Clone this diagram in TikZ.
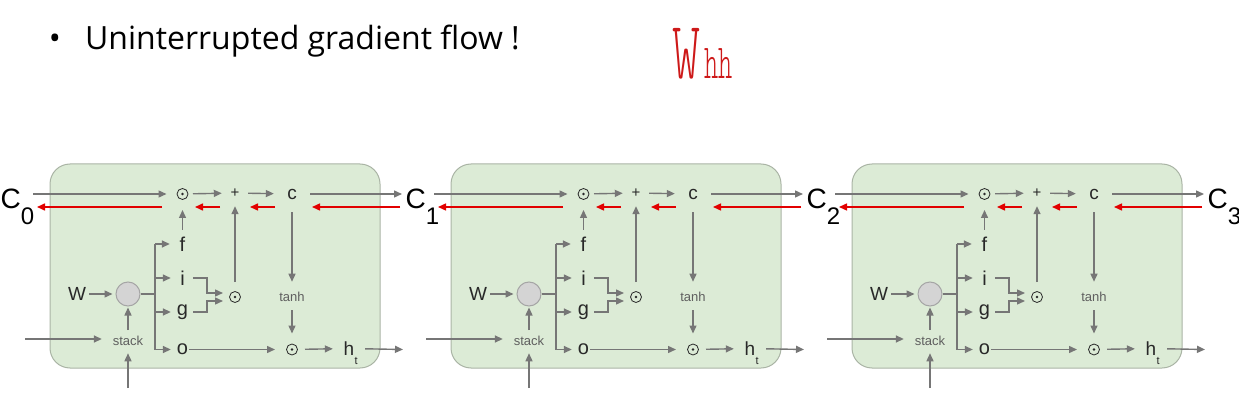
\documentclass[tikz,border=0pt]{standalone}
\usepackage{graphicx}
\usepackage{fontspec}
\setmainfont{Liberation Sans}
\newfontfamily\titlefont{Open Sans}
\newfontfamily\handfont{lmmonolt10-regular.otf}
\usetikzlibrary{arrows.meta}
\definecolor{lineg}{RGB}{118,118,118}
\definecolor{txtd}{RGB}{40,40,40}
\definecolor{txtg}{RGB}{95,95,95}
\definecolor{cellfill}{RGB}{220,235,214}
\definecolor{celldraw}{RGB}{170,180,165}
\definecolor{redarrow}{RGB}{226,0,0}
\definecolor{handred}{RGB}{205,25,25}
\definecolor{circfill}{RGB}{212,212,212}
\definecolor{circdraw}{RGB}{165,165,165}
\tikzset{
 cellbox/.style={draw=celldraw, fill=cellfill, rounded corners=20pt, line width=1pt, minimum width=330pt, minimum height=204pt, inner sep=0pt},
 arr/.style={draw=lineg, line width=1.4pt, -{Triangle[length=8pt,width=7pt]}},
 plainline/.style={draw=lineg, line width=1.4pt},
 redarr/.style={draw=redarrow, line width=1.5pt, -{Triangle[length=8pt,width=7pt]}},
 odotnode/.style={circle, draw=txtd, line width=0.8pt, minimum size=11pt, inner sep=0pt, outer sep=5pt,
   path picture={\fill[txtd] (path picture bounding box.center) circle (1.3pt);}},
 letter/.style={inner sep=0pt, text=txtd, font=\fontsize{20}{20}\selectfont},
 bigletter/.style={inner sep=0pt, text=txtd, font=\fontsize{19}{19}\selectfont},
 smalltxt/.style={inner sep=0pt, text=txtg, font=\fontsize{13}{13}\selectfont},
 clabel/.style={inner sep=0pt, text=black, font=\fontsize{28}{28}\selectfont, anchor=base west},
 wcirc/.style={circle, fill=circfill, draw=circdraw, line width=1pt, minimum size=24pt, inner sep=0pt},
 plusnode/.style={inner sep=0pt, minimum size=26pt, text=txtd, font=\fontsize{15}{15}\selectfont},
 cnode/.style={inner sep=0pt, minimum size=36pt, text=txtd, font=\fontsize{19}{19}\selectfont},
}
\newcommand{\csub}[1]{\raisebox{-17pt}{\fontsize{24}{24}\selectfont #1}}
\begin{document}
\begin{tikzpicture}[x=1pt,y=-1pt]
\useasboundingbox (0,0) rectangle (1239,406);
% title
\node[anchor=base, inner sep=0pt, font=\titlefont\fontsize{32}{32}\selectfont] (bullet) at (55,50) {•};
\node[anchor=base west, inner sep=0pt, font=\titlefont\fontsize{32}{32}\selectfont] (title) at (85,50) {Uninterrupted gradient flow !};
% handwritten annotation
\node[anchor=base west, inner sep=0pt, text=handred] (whh) at (672,79)
  {\scalebox{0.65}[1]{\handfont\fontsize{82}{82}\selectfont W}\hspace{4pt}\scalebox{0.55}[1]{\handfont\fontsize{49}{49}\selectfont hh}};
% cells
\foreach \k in {0,1,2}{
\begin{scope}[xshift=\k*401pt]
 \node[cellbox] (cell\k) at (215,266) {};
 \coordinate (cin\k) at (33,194);
 \coordinate (cout\k) at (402,194);
 \coordinate (xin\k) at (25,339);
 \coordinate (xbot\k) at (128,388);
 \coordinate (hout\k) at (403,349.5);
 \coordinate (br\k) at (155,294);
 \coordinate (ra\k) at (162,207); \coordinate (rb\k) at (37,207);
 \coordinate (rc\k) at (220,207); \coordinate (rd\k) at (195,207);
 \coordinate (re\k) at (275,207); \coordinate (rf\k) at (250,207);
 \coordinate (rg\k) at (400,207); \coordinate (rh\k) at (312,207);
 \node[odotnode] (oda\k) at (182.5,194) {};
 \node[plusnode] (plus\k) at (235,193) {+};
 \node[cnode] (c\k) at (292,194) {c};
 \node[letter] (f\k) at (182.5,244) {f};
 \node[letter] (i\k) at (182.5,278) {i};
 \node[letter] (g\k) at (182.5,312) {g};
 \node[letter] (o\k) at (182.5,349.5) {o};
 \node[wcirc] (circ\k) at (128,294) {};
 \node[bigletter] (W\k) at (77,294) {W};
 \node[smalltxt] (stack\k) at (128,341) {stack};
 \node[odotnode] (odb\k) at (235,297) {};
 \node[smalltxt] (tanh\k) at (292,297) {tanh};
 \node[odotnode] (odc\k) at (292,349.5) {};
 \node[bigletter, label={[inner sep=0pt, text=txtd, font=\fontsize{11}{11}\selectfont, anchor=north west, yshift=-2pt]south east:t}] (ht\k) at (349,348.5) {h};
 % gray connectors
 \draw[arr, shorten >=5.5pt] (cin\k) -- (oda\k);
 \draw[arr] (oda\k) -- (plus\k);
 \draw[arr] (plus\k) -- (c\k);
 \draw[arr] (c\k) -- (cout\k);
 \draw[arr, shorten <=6.7pt, shorten >=5.5pt] (f\k) -- (oda\k);
 \draw[plainline] (circ\k) -- (br\k);
 \draw[plainline] (br\k |- f\k) -- (br\k |- o\k);
 \draw[arr, shorten >=9.7pt] (br\k |- f\k) -- (f\k);
 \draw[arr, shorten >=9.3pt] (br\k |- i\k) -- (i\k);
 \draw[arr, shorten >=5.9pt] (br\k |- g\k) -- (g\k);
 \draw[arr, shorten >=5.9pt] (br\k |- o\k) -- (o\k);
 \draw[arr, shorten <=3pt, shorten >=3pt] (W\k) -- (circ\k);
 \draw[arr, shorten <=6pt, shorten >=1pt] (stack\k) -- (circ\k);
 \draw[arr, shorten >=10.8pt] (xin\k) -- (xin\k -| stack\k.west);
 \draw[arr, shorten >=7.3pt] (xbot\k) -- (stack\k);
 \draw[arr] ([xshift=8pt]i\k.east) -| ([xshift=-28pt,yshift=4pt]odb\k.center) -- ([xshift=-12pt,yshift=4pt]odb\k.center);
 \draw[arr] ([xshift=5pt]g\k.east) -| ([xshift=-28pt,yshift=-4pt]odb\k.center) -- ([xshift=-12pt,yshift=-4pt]odb\k.center);
 \draw[arr, shorten <=4.5pt] (odb\k) -- (plus\k);
 \draw[arr, shorten >=10.3pt] (c\k) -- (tanh\k);
 \draw[arr, shorten <=8.3pt, shorten >=5.5pt] (tanh\k) -- (odc\k);
 \draw[arr, shorten <=0.5pt, shorten >=6.5pt] (o\k) -- (odc\k);
 \draw[arr, shorten <=2.5pt, shorten >=10.7pt] (odc\k) -- (ht\k);
 \draw[arr, shorten <=10.7pt] (ht\k) -- (hout\k);
 % red gradient arrows
 \draw[redarr] (ra\k) -- (rb\k);
 \draw[redarr] (rc\k) -- (rd\k);
 \draw[redarr] (re\k) -- (rf\k);
 \draw[redarr] (rg\k) -- (rh\k);
\end{scope}
}
% cell-state labels
\node[clabel] (C0) at (0.5,208) {C\csub{0}};
\node[clabel] (C1) at (405.5,208) {C\csub{1}};
\node[clabel] (C2) at (806.5,208) {C\csub{2}};
\node[clabel] (C3) at (1207.5,208) {C\csub{3}};
\end{tikzpicture}
\end{document}
